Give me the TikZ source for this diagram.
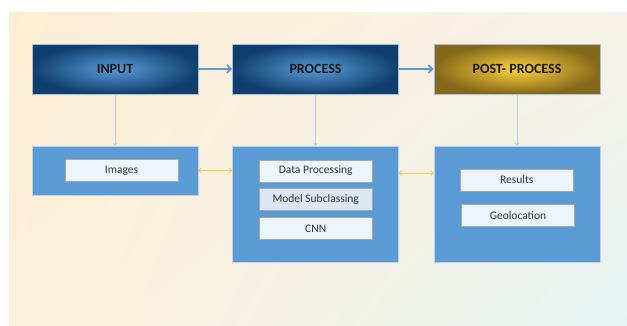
\documentclass[tikz,border=0pt]{standalone}
\usepackage{fontspec}
\setmainfont{Carlito}
\usetikzlibrary{arrows.meta,shadings}
\definecolor{bgTL}{HTML}{FDEED3}
\definecolor{bgTR}{HTML}{F5F1E8}
\definecolor{bgBL}{HTML}{FDF0D9}
\definecolor{bgBR}{HTML}{E7F3F3}
\definecolor{blueIn}{HTML}{5B9BD5}
\definecolor{blueOut}{HTML}{0F3F6E}
\definecolor{goldIn}{HTML}{FFD23F}
\definecolor{goldOut}{HTML}{85691A}
\definecolor{panel}{HTML}{5B9BD5}
\definecolor{inner}{HTML}{EEF4FB}
\definecolor{innerDark}{HTML}{DCE7F3}
\definecolor{frame}{HTML}{A8BFD6}
\definecolor{linkline}{HTML}{B9CCDD}
\definecolor{yellowlink}{HTML}{F6C94A}
\tikzset{
  topbox/.style={draw=frame, line width=0.6pt, minimum width=166pt, minimum height=50pt, inner sep=0pt, font=\bfseries\fontsize{14}{16}\selectfont, text=black!90},
  bluetop/.style={topbox, inner color=blueIn, outer color=blueOut},
  goldtop/.style={topbox, inner color=goldIn, outer color=goldOut},
  panelbox/.style={draw=frame!70!white, line width=0.6pt, fill=panel, minimum width=166pt, inner sep=0pt},
  itembox/.style={draw=gray!70, line width=0.6pt, fill=inner, minimum width=113pt, minimum height=22pt, inner sep=0pt, font=\fontsize{11.5}{13}\selectfont, text=black!80},
  mainarrow/.style={draw=blueIn, line width=1.8pt, -{Straight Barb[length=4pt,width=8pt]}},
  downlink/.style={draw=linkline, line width=0.7pt, -{Straight Barb[length=2pt,width=4pt]}},
  sidelink/.style={draw=yellowlink, line width=0.7pt, {Straight Barb[length=2.5pt,width=5pt]}-{Straight Barb[length=2.5pt,width=5pt]}}
}
\begin{document}
\begin{tikzpicture}[x=1pt,y=-1pt]
\useasboundingbox (0,0) rectangle (627,325);
\fill[white] (0,0) rectangle (627,325);
\shade[upper left=bgTL, upper right=bgTR, lower left=bgBL, lower right=bgBR] (9,12) rectangle (627,325);
% top boxes
\node[bluetop] (input) at (115,69) {INPUT};
\node[bluetop] (process) at (315.5,69) {PROCESS};
\node[goldtop] (post) at (517,69) {POST- PROCESS};
% panels
\node[panelbox, minimum height=49pt] (inpanel) at (115,170.5) {};
\node[panelbox, minimum height=116pt] (procpanel) at (315.5,204) {};
\node[panelbox, minimum height=116pt] (postpanel) at (517,204) {};
% items
\node[itembox] (images) at (121.5,170.3) {Images};
\node[itembox] (dataproc) at (315.7,171) {Data Processing};
\node[itembox, fill=innerDark] (model) at (315.7,199.7) {Model Subclassing};
\node[itembox] (cnn) at (315.7,228.7) {CNN};
\node[itembox] (results) at (516.8,180) {Results};
\node[itembox] (geo) at (518,215.3) {Geolocation};
% connectors
\draw[mainarrow] (input.east) -- (process.west);
\draw[mainarrow] (process.east) -- (post.west);
\draw[downlink] (input.south) -- (inpanel.north);
\draw[downlink] (process.south) -- (procpanel.north);
\draw[downlink] (post.south) -- (postpanel.north);
\coordinate (a1) at (inpanel.east |- 0,170.3);
\coordinate (a2) at (procpanel.west |- 0,170.3);
\draw[sidelink] (a1) -- (a2);
\coordinate (b1) at (procpanel.east |- 0,173);
\coordinate (b2) at (postpanel.west |- 0,173);
\draw[sidelink] (b1) -- (b2);
\end{tikzpicture}
\end{document}
